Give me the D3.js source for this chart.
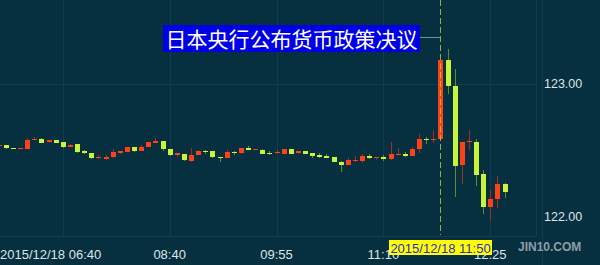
<!DOCTYPE html>
<html>
<head>
<meta charset="utf-8">
<script src="https://cdn.jsdelivr.net/npm/d3@7"></script>
<style>
  html, body { margin: 0; padding: 0; background: #062f3f; }
  svg { display: block; }
</style>
</head>
<body>
<div id="chart"></div>
<script>
// 5 minute candles, USD/JPY, 2015/12/18 from 06:40
const opens = [122.532, 122.539, 122.519, 122.511, 122.514, 122.581, 122.586, 122.559, 122.579, 122.564,
  122.526, 122.549, 122.494, 122.479, 122.439, 122.439, 122.449, 122.481, 122.489, 122.526,
  122.499, 122.526, 122.556, 122.569, 122.511, 122.469, 122.474, 122.426, 122.469, 122.499,
  122.494, 122.451, 122.444, 122.492, 122.479, 122.522, 122.504, 122.506, 122.484, 122.476,
  122.476, 122.511, 122.476, 122.497, 122.481, 122.469, 122.461, 122.451, 122.416, 122.391,
  122.426, 122.424, 122.461, 122.444, 122.454, 122.439, 122.469, 122.476, 122.459, 122.509,
  122.589, 122.579, 122.584, 123.180, 122.985, 122.386, 122.559, 122.566, 122.323, 122.077,
  122.135, 122.250];
const highs = [122.545, 122.545, 122.521, 122.521, 122.594, 122.599, 122.592, 122.580, 122.582, 122.566,
  122.547, 122.551, 122.504, 122.481, 122.469, 122.469, 122.511, 122.496, 122.528, 122.528,
  122.539, 122.566, 122.594, 122.571, 122.513, 122.483, 122.476, 122.519, 122.501, 122.501,
  122.496, 122.452, 122.504, 122.494, 122.521, 122.534, 122.513, 122.508, 122.497, 122.502,
  122.513, 122.513, 122.496, 122.499, 122.483, 122.481, 122.476, 122.453, 122.418, 122.441,
  122.456, 122.472, 122.472, 122.453, 122.466, 122.566, 122.522, 122.492, 122.526, 122.623,
  122.604, 122.654, 123.182, 123.263, 123.111, 122.565, 122.654, 122.584, 122.353, 122.203,
  122.308, 122.252];
const lows = [122.528, 122.510, 122.509, 122.509, 122.512, 122.579, 122.556, 122.557, 122.557, 122.522,
  122.524, 122.484, 122.474, 122.439, 122.437, 122.426, 122.447, 122.474, 122.487, 122.489,
  122.497, 122.524, 122.554, 122.494, 122.456, 122.454, 122.419, 122.414, 122.467, 122.474,
  122.447, 122.416, 122.442, 122.469, 122.477, 122.502, 122.502, 122.474, 122.469, 122.474,
  122.474, 122.474, 122.474, 122.474, 122.444, 122.447, 122.441, 122.414, 122.341, 122.389,
  122.412, 122.406, 122.436, 122.431, 122.424, 122.429, 122.467, 122.449, 122.457, 122.479,
  122.549, 122.559, 122.582, 122.925, 122.153, 122.248, 122.504, 122.235, 122.023, 121.972,
  122.065, 122.141];
const closes = [122.541, 122.514, 122.511, 122.519, 122.581, 122.589, 122.559, 122.577, 122.559, 122.524,
  122.544, 122.486, 122.476, 122.441, 122.449, 122.451, 122.486, 122.494, 122.526, 122.499,
  122.526, 122.564, 122.569, 122.511, 122.469, 122.481, 122.426, 122.469, 122.499, 122.489,
  122.449, 122.447, 122.489, 122.481, 122.519, 122.504, 122.511, 122.476, 122.476, 122.486,
  122.511, 122.476, 122.494, 122.476, 122.461, 122.454, 122.447, 122.416, 122.391, 122.426,
  122.431, 122.459, 122.444, 122.451, 122.436, 122.474, 122.474, 122.459, 122.514, 122.584,
  122.579, 122.586, 123.180, 122.985, 122.386, 122.562, 122.569, 122.321, 122.077, 122.138,
  122.250, 122.193];

// axis labels
const tickIndex = [0, 24, 39, 54, 69];
const tickLabels = ["2015/12/18 06:40", "08:40", "09:55", "11:10", "12:25"];
const gridIndex = [9, 24, 39, 54, 69];
const priceTicks = [123, 122];

const title = "日本央行公布货币政策决议";
const cursorIndex = 62;
const cursorLabel = "2015/12/18 11:50";

const width = 600, height = 265;
const plotRight = 536, plotBottom = 236;

const candles = opens.map((o, i) => ({ i: i, o: o, h: highs[i], l: lows[i], c: closes[i] }));

const svg = d3.select("#chart").append("svg")
  .attr("width", width)
  .attr("height", height);

svg.append("rect").attr("width", width).attr("height", height).attr("fill", "#062f3f");

// scales
const x = d3.scaleLinear().domain([0, candles.length - 1]).range([-1.3, 504.5]);
const y = d3.scaleLinear().domain([122, 123]).range([217, 84]);

svg.append("defs").append("clipPath").attr("id", "plot")
  .append("rect").attr("x", 0).attr("y", 0).attr("width", plotRight).attr("height", plotBottom);

// grid
const grid = svg.append("g").attr("stroke", "#0f3d4d").attr("stroke-width", 1).attr("shape-rendering", "crispEdges");
gridIndex.forEach((gi) => {
  grid.append("line").attr("x1", Math.round(x(gi)) + 0.5).attr("x2", Math.round(x(gi)) + 0.5)
    .attr("y1", 0).attr("y2", plotBottom);
});
grid.append("line").attr("x1", 0).attr("x2", plotRight).attr("y1", Math.round(y(123)) + 0.5).attr("y2", Math.round(y(123)) + 0.5);
grid.append("line").attr("x1", 0).attr("x2", plotRight).attr("y1", plotBottom + 0.5).attr("y2", plotBottom + 0.5);
grid.append("line").attr("x1", plotRight + 0.5).attr("x2", plotRight + 0.5).attr("y1", 0).attr("y2", plotBottom);
grid.append("line").attr("x1", 542.5).attr("x2", 542.5).attr("y1", 0).attr("y2", height);

// candles
const up = "#ff4119", down = "#c8f53c";
const upWick = "#a0301e", downWick = "#5f8f2a";

const g = svg.append("g").attr("clip-path", "url(#plot)").attr("shape-rendering", "crispEdges");

g.selectAll("line.wick")
  .data(candles)
  .join("line")
  .attr("class", "wick")
  .attr("x1", (d) => Math.round(x(d.i)) + 0.5)
  .attr("x2", (d) => Math.round(x(d.i)) + 0.5)
  .attr("y1", (d) => y(d.h))
  .attr("y2", (d) => y(d.l))
  .attr("stroke", (d) => (d.c >= d.o ? upWick : downWick))
  .attr("stroke-width", 1);

g.selectAll("rect.body")
  .data(candles)
  .join("rect")
  .attr("class", "body")
  .attr("x", (d) => Math.round(x(d.i)) - 2)
  .attr("width", 5)
  .attr("y", (d) => Math.round(y(Math.max(d.o, d.c))))
  .attr("height", (d) => Math.max(1, Math.round(Math.abs(y(d.o) - y(d.c)))))
  .attr("fill", (d) => (d.c >= d.o ? up : down));

// price labels
svg.selectAll("text.price")
  .data(priceTicks)
  .join("text")
  .attr("class", "price")
  .attr("x", 544)
  .attr("y", (d) => y(d))
  .attr("dy", "0.35em")
  .attr("fill", "#dde5e8")
  .style("font", "12.5px 'Liberation Sans', Arial, sans-serif")
  .text((d) => d3.format(".2f")(d));

// time labels
svg.selectAll("text.time")
  .data(tickIndex)
  .join("text")
  .attr("class", "time")
  .attr("x", (d, i) => (i === 0 ? 0 : x(d)))
  .attr("y", 259)
  .attr("text-anchor", (d, i) => (i === 0 ? "start" : "middle"))
  .attr("fill", "#dde5e8")
  .style("font", "13px 'Liberation Sans', Arial, sans-serif")
  .text((d, i) => tickLabels[i]);

// watermark
svg.append("text")
  .attr("x", 518).attr("y", 251)
  .attr("fill", "#8e9ea7")
  .style("font", "bold 12px 'Liberation Sans', Arial, sans-serif")
  .text("JIN10.COM");

// crosshair
const cx = Math.round(x(cursorIndex)) + 0.5;
svg.append("line")
  .attr("x1", cx).attr("x2", cx).attr("y1", 0).attr("y2", plotBottom - 1)
  .attr("stroke", "#b8d236").attr("stroke-width", 1)
  .attr("stroke-dasharray", "6,3").attr("opacity", 0.8);

svg.append("line")
  .attr("x1", 420).attr("x2", cx).attr("y1", 37.5).attr("y2", 37.5)
  .attr("stroke", "#7d8e98").attr("stroke-width", 1);

// title
svg.append("rect")
  .attr("x", 163).attr("y", 25).attr("width", 257).attr("height", 27)
  .attr("fill", "#0000e6");
svg.append("text")
  .attr("x", 291.5).attr("y", 39)
  .attr("dy", "0.36em")
  .attr("text-anchor", "middle")
  .attr("fill", "#ffffff")
  .style("font", "21px 'Noto Sans CJK SC', sans-serif")
  .text(title);

// cursor time label
svg.append("rect")
  .attr("x", 389).attr("y", 240).attr("width", 103).attr("height", 15)
  .attr("fill", "#ffff00");
svg.append("text")
  .attr("x", 440.5).attr("y", 253)
  .attr("text-anchor", "middle")
  .attr("fill", "#2b2bd6")
  .style("font", "13px 'Liberation Sans', Arial, sans-serif")
  .text(cursorLabel);
</script>
</body>
</html>
